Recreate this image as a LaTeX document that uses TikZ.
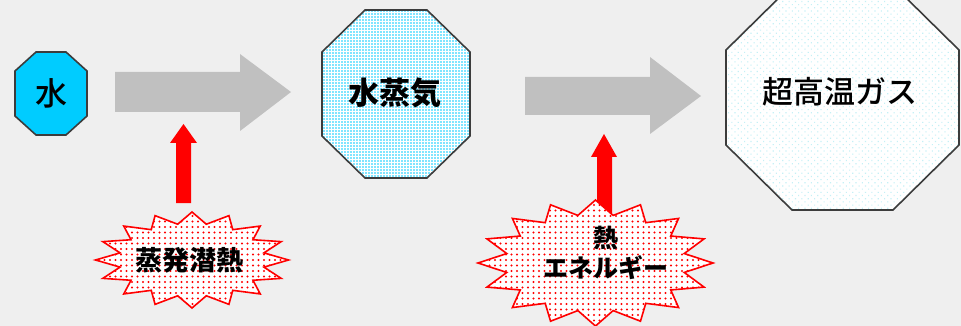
\documentclass[tikz,border=0pt]{standalone}
\usepackage{fontspec}
\newfontfamily\jp{Noto Sans CJK JP}
\newfontfamily\jpm{Noto Sans CJK JP Medium}
\usetikzlibrary{patterns.meta}
\definecolor{bgcol}{RGB}{239,239,239}
\definecolor{cyfill}{RGB}{0,204,255}
\definecolor{arrowgray}{RGB}{192,192,192}
\definecolor{octline}{RGB}{60,60,60}
\definecolor{faintcy}{RGB}{196,240,246}
\definecolor{redcol}{RGB}{255,0,0}
\tikzset{
  octa/.style={draw=octline, line width=1.6pt, line join=miter},
  blockarrow/.style={fill=arrowgray},
  redarrow/.style={fill=redcol},
  burst/.style={draw=redcol, line width=1.6pt, line join=miter,
    preaction={fill=white},
    pattern={Dots[distance=5.5pt,radius=1.1pt]}, pattern color=redcol},
  label/.style={font=\jpm\fontsize{30}{36}\selectfont, text=black, inner sep=0pt},
}
\begin{document}
\begin{tikzpicture}[x=1pt,y=-1pt]
\useasboundingbox (0,0) rectangle (961,326);
\fill[bgcol] (0,0) rectangle (961,326);
\begin{scope}
\clip (0,0) rectangle (961,326);
% gray block arrows
\fill[blockarrow] (115,72) -- (240,72) -- (240,54) -- (291,92) -- (240,131) -- (240,112) -- (115,112) -- cycle;
\fill[blockarrow] (525,77) -- (650,77) -- (650,57) -- (701,96) -- (650,134) -- (650,115) -- (525,115) -- cycle;
% octagon water
\draw[octa, fill=cyfill] (36,52) -- (66,52) -- (87,71) -- (87,116) -- (66,135) -- (36,135) -- (15,116) -- (15,71) -- cycle;
\node[label, font=\jpm\fontsize{32}{36}\selectfont] (water) at (51,93) {水};
% octagon steam
\draw[octa, preaction={fill=white}, pattern={Dots[distance=3pt,radius=0.9pt]}, pattern color=cyfill]
  (365,10) -- (427,10) -- (470,52) -- (470,136) -- (427,178) -- (365,178) -- (322,136) -- (322,52) -- cycle;
\node[label, font=\jp\bfseries\fontsize{31}{36}\selectfont] (steam) at (395,93) {水蒸気};
% octagon gas
\draw[octa, preaction={fill=white}, pattern={Dots[angle=45,distance=4.5pt,radius=0.8pt]}, pattern color=faintcy]
  (792,-15) -- (893,-15) -- (959,50) -- (959,145) -- (893,210) -- (792,210) -- (726,145) -- (726,50) -- cycle;
\node[label, font=\jpm\fontsize{31}{36}\selectfont] (gas) at (840,92) {超高温ガス};
% red arrows
\fill[redarrow] (183.5,124) -- (197,143) -- (191,143) -- (191,203) -- (176,203) -- (176,143) -- (170,143) -- cycle;
\fill[redarrow] (604,134) -- (617,157) -- (612,157) -- (612,218) -- (597,218) -- (597,157) -- (591,157) -- cycle;
% bursts
\draw[burst] plot[domain=0:360,samples=33]
  ({192+96.5*(1-0.24*mod(round(\x/11.25),2))*cos(\x)}, {260-48*(1-0.24*mod(round(\x/11.25),2))*sin(\x)}) -- cycle;
\node[label, font=\jp\bfseries\fontsize{27}{30}\selectfont] (latent) at (189,260) {蒸発潜熱};
\draw[burst] plot[domain=0:360,samples=33]
  ({595.5+117.5*(1-0.23*mod(round(\x/11.25),2))*cos(\x)}, {263-63*(1-0.23*mod(round(\x/11.25),2))*sin(\x)}) -- cycle;
\node[label, font=\jp\bfseries\fontsize{25}{30}\selectfont, align=center] (heat) at (606,253) {熱\\エネルギー};
\end{scope}
\end{tikzpicture}
\end{document}
